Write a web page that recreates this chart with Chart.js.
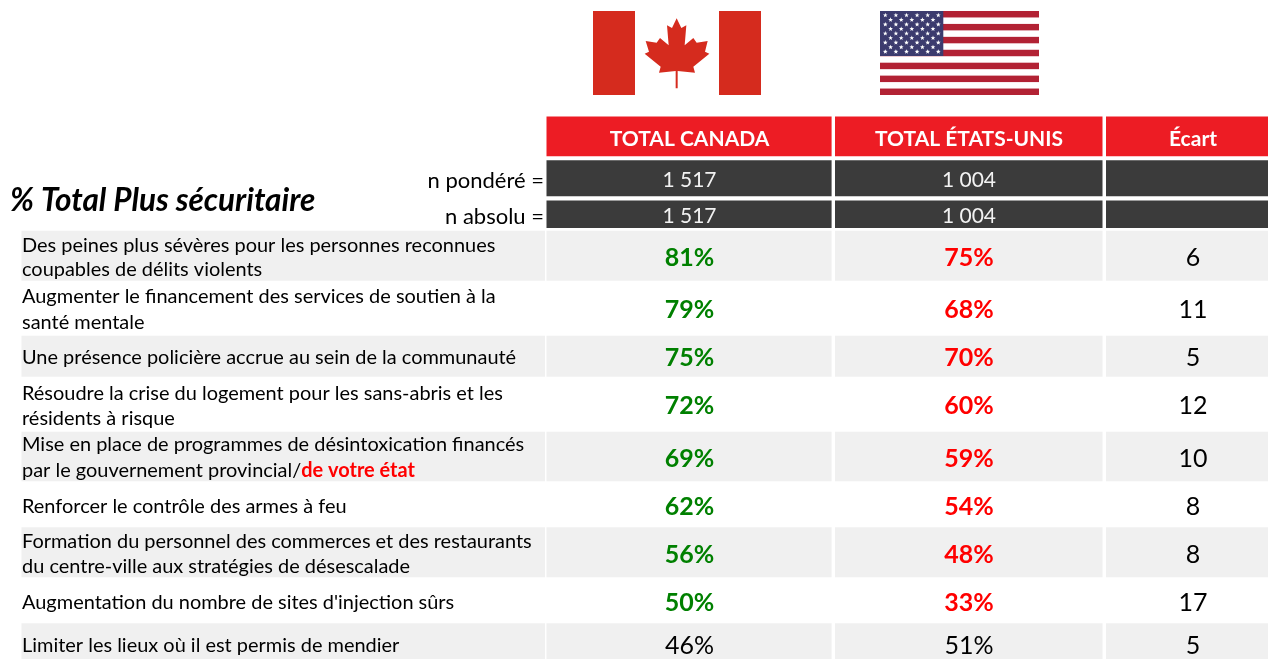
<!DOCTYPE html>
<html lang="fr"><head><meta charset="utf-8">
<style>html,body{margin:0;padding:0;background:#fff}canvas{display:block}</style>
<script src="https://cdn.jsdelivr.net/npm/chart.js@4/dist/chart.umd.min.js"></script>
</head><body><canvas id="c" width="1268" height="659"></canvas>
<script>
// ---- data ----
const titleText = "% Total Plus sécuritaire";
const columnNames = ["TOTAL CANADA", "TOTAL ÉTATS-UNIS", "Écart"];
const weightedN = ["1 517", "1 004", ""];
const absoluteN = ["1 517", "1 004", ""];
const nLabels = ["n pondéré =", "n absolu ="];
const rowLabels = [
  ["Des peines plus sévères pour les personnes reconnues", "coupables de délits violents"],
  ["Augmenter le financement des services de soutien à la", "santé mentale"],
  ["Une présence policière accrue au sein de la communauté"],
  ["Résoudre la crise du logement pour les sans-abris et les", "résidents à risque"],
  ["Mise en place de programmes de désintoxication financés", "par le gouvernement provincial/"],
  ["Renforcer le contrôle des armes à feu"],
  ["Formation du personnel des commerces et des restaurants", "du centre-ville aux stratégies de désescalade"],
  ["Augmentation du nombre de sites d'injection sûrs"],
  ["Limiter les lieux où il est permis de mendier"]
];
const redSuffix = "de votre état";
const canadaValues = [81, 79, 75, 72, 69, 62, 56, 50, 46];
const usaValues = [75, 68, 70, 60, 59, 54, 48, 33, 51];
const gapValues = [6, 11, 5, 12, 10, 8, 8, 17, 5];
const highlighted = [true, true, true, true, true, true, true, true, false];

// ---- layout (scale units equal page pixels) ----
const colEdges = [[21.5, 545], [546.5, 831.6], [835, 1102.5], [1106, 1268]];
const colCenters = colEdges.map(e => (e[0] + e[1]) / 2);
const colWidths = colEdges.map(e => e[1] - e[0]);
const textCenters = [689.5, 969, 1193];
const headerBand = [116.6, 156.3];
const nBands = [[160.3, 196.3], [200.6, 228]];
const stripedBands = [[230.7, 280.7], [335.7, 376.7], [431.7, 481.3], [527.3, 577.3], [623.3, 659]];
const rowY = [258, 310, 358, 406, 459, 507, 555, 603, 646];
const labelLineY = [[245.5, 269.5], [296.5, 322.5], [357.5], [393.5, 418.5], [444.5, 470.5], [506.5], [541.5, 566.5], [602.5], [645.5]];
const nTextY = [180.5, 216.5];
const FONT = "Lato, Carlito, sans-serif";
const labelFont = "19.95px " + FONT;

function tableDataset(col) {
  const bands = col === 0 ? stripedBands : [headerBand, ...nBands, ...stripedBands];
  const colors = col === 0 ? stripedBands.map(() => "#f0f0f0")
    : ["#ed1c24", "#3b3b3b", "#3b3b3b", ...stripedBands.map(() => "#f0f0f0")];
  return {
    type: "bar", label: "col" + col, grouped: false, inflateAmount: 0,
    barThickness: colWidths[col], maxBarThickness: colWidths[col],
    backgroundColor: colors, borderWidth: 0,
    data: bands.map(b => ({ x: colCenters[col], y: [b[0], b[1]] }))
  };
}
function valueDataset(name, col, values) {
  return {
    type: "scatter", label: name, pointRadius: 0, showLine: false,
    values: values,
    data: values.map((v, i) => ({ x: textCenters[col], y: rowY[i] }))
  };
}

// ---- flags ----
const leaf = [[110,25],[124,54],[139,46],[134,106],[160,84],[170,98],[203,93],[195,125],[208,131],[160,170],[165,188],[113,183],[113,235],[107,235],[107,183],[57,188],[62,170],[14,131],[27,125],[17,93],[50,98],[60,84],[86,106],[81,46],[96,54]];
function drawCanada(ctx, s) {
  const X = v => s.x.getPixelForValue(v), Y = v => s.y.getPixelForValue(v);
  ctx.fillStyle = "#d52b1e";
  ctx.fillRect(X(593), Y(11), 42, 84);
  ctx.fillRect(X(719), Y(11), 42, 84);
  ctx.beginPath();
  leaf.forEach((p, i) => {
    const x = X(640 + p[0] / 3), y = Y(10 + p[1] / 3);
    i ? ctx.lineTo(x, y) : ctx.moveTo(x, y);
  });
  ctx.closePath(); ctx.fill();
}
function star(ctx, cx, cy, r) {
  ctx.beginPath();
  for (let i = 0; i < 10; i++) {
    const a = -Math.PI / 2 + i * Math.PI / 5, q = i % 2 ? r * 0.42 : r;
    ctx.lineTo(cx + q * Math.cos(a), cy + q * Math.sin(a));
  }
  ctx.closePath(); ctx.fill();
}
function drawUSA(ctx, s) {
  const X = v => s.x.getPixelForValue(v), Y = v => s.y.getPixelForValue(v);
  const h = 84 / 13;
  ctx.fillStyle = "#b22234";
  for (let i = 0; i < 13; i += 2) ctx.fillRect(X(880), Y(11 + i * h), 159, h);
  ctx.fillStyle = "#3c3b6e";
  ctx.fillRect(X(880), Y(11), 63.3, 45);
  ctx.fillStyle = "#fff";
  for (let r = 0; r < 9; r++) {
    const n = r % 2 ? 5 : 6;
    for (let c = 0; c < n; c++) {
      star(ctx, X(885.3 + (r % 2 ? 5.3 : 0) + c * 10.6), Y(15.3 + r * 4.55), 2.5);
    }
  }
}

// ---- text plugin ----
const tablePlugin = {
  id: "tablePlugin",
  afterDatasetsDraw(chart) {
    const ctx = chart.ctx, s = chart.scales;
    const X = v => s.x.getPixelForValue(v), Y = v => s.y.getPixelForValue(v);
    const put = (t, x, y, font, color, align) => {
      ctx.font = font; ctx.fillStyle = color; ctx.textAlign = align || "center";
      ctx.textBaseline = "middle"; ctx.fillText(t, X(x), Y(y));
    };
    ctx.save();
    drawCanada(ctx, s); drawUSA(ctx, s);
    columnNames.forEach((n, i) => put(n, textCenters[i], 139.5, "bold 21px " + FONT, "#fff"));
    [weightedN, absoluteN].forEach((arr, r) => arr.forEach((n, i) => {
      if (n) put(n, textCenters[i], nTextY[r], "21px " + FONT, "#f2f2f2");
    }));
    nLabels.forEach((n, r) => put(n, 544, nTextY[r] + 0.5, "22px " + FONT, "#000", "right"));
    put(titleText, 10, 201, "italic bold 31.5px " + FONT, "#000", "left");
    rowLabels.forEach((lines, i) => lines.forEach((line, j) => {
      put(line, 22, labelLineY[i][j], labelFont, "#000", "left");
      if (i === 4 && j === 1) {
        const w = ctx.measureText(line).width;
        put(redSuffix, 22 + w, labelLineY[i][j], "bold " + labelFont, "#ff0000", "left");
      }
    }));
    chart.data.datasets.filter(d => d.values).forEach((d, k) => {
      d.values.forEach((v, i) => {
        const y = d.data[i].y, x = d.data[i].x;
        if (k === 2) put(String(v), x, y, "25px " + FONT, "#000");
        else if (highlighted[i]) put(v + "%", x, y, "bold 25px " + FONT, k === 0 ? "#008000" : "#ff0000");
        else put(v + "%", x, y, "25px " + FONT, "#000");
      });
    });
    ctx.restore();
  }
};

new Chart(document.getElementById("c"), {
  type: "bar",
  data: {
    datasets: [
      ...colCenters.map((_, c) => tableDataset(c)),
      valueDataset(columnNames[0], 0, canadaValues),
      valueDataset(columnNames[1], 1, usaValues),
      valueDataset(columnNames[2], 2, gapValues)
    ]
  },
  options: {
    responsive: false, animation: false,
    layout: { padding: 0 },
    plugins: { legend: { display: false }, tooltip: { enabled: false } },
    scales: {
      x: { type: "linear", min: 0, max: 1268, display: false, offset: false },
      y: { type: "linear", min: 0, max: 659, reverse: true, display: false }
    }
  },
  plugins: [tablePlugin]
});
</script></body></html>
